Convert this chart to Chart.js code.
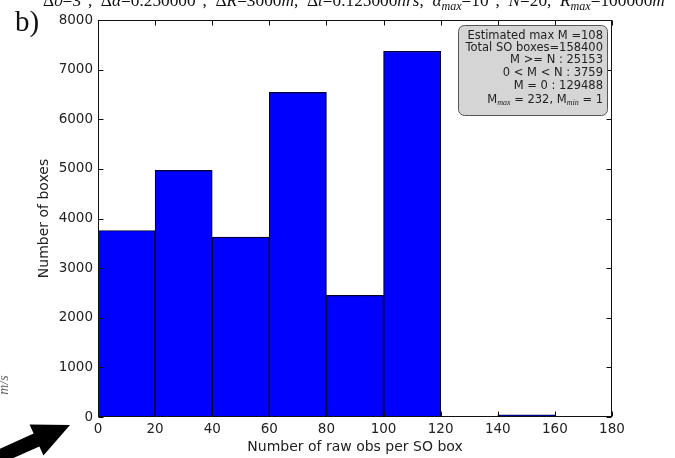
<!DOCTYPE html>
<html>
<head>
<meta charset="utf-8">
<script src="https://cdn.jsdelivr.net/npm/chart.js@4.4.1/dist/chart.umd.min.js"></script>
<style>
  body { margin: 0; background: #fff; }
  canvas { display: block; }
</style>
</head>
<body>
<canvas id="histo" width="675" height="458"></canvas>
<script>
// histogram bins (width 20 obs) and number of SO boxes in each
const binStarts = [0, 20, 40, 60, 80, 100, 120, 140, 160];
const binWidth = 20;
const boxCounts = [3759, 4970, 3625, 6540, 2450, 7370, 0, 45, 0];
const xTicks = [0, 20, 40, 60, 80, 100, 120, 140, 160, 180];
const yTicks = [0, 1000, 2000, 3000, 4000, 5000, 6000, 7000, 8000];

// summary box text
const statsLines = [
  'Estimated max M =108',
  'Total SO boxes=158400',
  'M >= N : 25153',
  '0 < M < N : 3759',
  'M = 0 : 129488'
];
const statsLast = [
  { t: 'M' }, { t: 'max', sub: true, serif: true, it: true }, { t: ' = 232, M' },
  { t: 'min', sub: true, serif: true, it: true }, { t: ' = 1' }
];

// run parameters heading
const headRuns = [
  { t: 'Δ' }, { t: 'ϑ', it: true }, { t: '=3°,  Δ' }, { t: 'α', it: true },
  { t: '=0.250000°,  Δ' }, { t: 'R', it: true }, { t: '=3000' }, { t: 'm', it: true },
  { t: ',  Δ' }, { t: 't', it: true }, { t: '=0.125000' }, { t: 'hrs', it: true },
  { t: ',  ' }, { t: 'α', it: true }, { t: 'max', it: true, sub: true }, { t: '=10°,  ' },
  { t: 'N', it: true }, { t: '=20,  ' }, { t: 'R', it: true }, { t: 'max', it: true, sub: true },
  { t: '=100000' }, { t: 'm', it: true }
];

const sans = '"DejaVu Sans", sans-serif';
const serif = '"Liberation Serif", "DejaVu Serif", serif';

function runFont(r, size, family) {
  const s = r.sub ? size * 0.7 : size;
  return (r.it ? 'italic ' : '') + s.toFixed(2) + 'px ' + (r.serif ? serif : family);
}

function runsWidth(ctx, runs, size, family) {
  let w = 0;
  runs.forEach(r => { ctx.font = runFont(r, size, family); w += ctx.measureText(r.t).width; });
  return w;
}

function drawRuns(ctx, runs, x, y, size, family) {
  runs.forEach(r => {
    ctx.font = runFont(r, size, family);
    ctx.fillText(r.t, x, r.sub ? y + size * 0.22 : y);
    x += ctx.measureText(r.t).width;
  });
}

const decorations = {
  id: 'decorations',
  afterDatasetsDraw(chart) {
    const { ctx, chartArea: a, scales: { x, y } } = chart;
    const L = Math.round(a.left) + 0.5, R = Math.round(a.right) - 0.5;
    const T = Math.round(a.top) + 0.5, B = Math.round(a.bottom) - 0.5;
    ctx.save();
    ctx.strokeStyle = '#111';
    ctx.lineWidth = 1;
    ctx.strokeRect(L, T, R - L, B - T);

    // inward tick marks on all four sides
    ctx.beginPath();
    xTicks.forEach(v => {
      const px = Math.round(x.getPixelForValue(v)) + 0.5;
      ctx.moveTo(px, B); ctx.lineTo(px, B - 5);
      ctx.moveTo(px, T); ctx.lineTo(px, T + 5);
    });
    yTicks.forEach(v => {
      const py = Math.round(y.getPixelForValue(v)) + 0.5;
      ctx.moveTo(L, py); ctx.lineTo(L + 5, py);
      ctx.moveTo(R, py); ctx.lineTo(R - 5, py);
    });
    ctx.stroke();

    // summary box in the upper right
    ctx.beginPath();
    ctx.roundRect(458.5, 25.5, 149, 90, 6);
    ctx.fillStyle = '#d5d5d5';
    ctx.fill();
    ctx.strokeStyle = '#555';
    ctx.stroke();
    ctx.fillStyle = '#222';
    ctx.textAlign = 'right';
    ctx.textBaseline = 'middle';
    ctx.font = '11.5px ' + sans;
    const rowY = [36, 48, 60, 73, 86];
    statsLines.forEach((s, i) => ctx.fillText(s, 603, rowY[i]));
    ctx.textAlign = 'left';
    const w = runsWidth(ctx, statsLast, 11.5, sans);
    drawRuns(ctx, statsLast, 603 - w, 100, 11.5, sans);

    // heading, clipped by the top edge
    ctx.textBaseline = 'alphabetic';
    ctx.fillStyle = '#111';
    let size = 17;
    size *= 622 / runsWidth(ctx, headRuns, size, serif);
    drawRuns(ctx, headRuns, 43, 6, size, serif);

    // panel letter
    ctx.font = '29px ' + serif;
    ctx.fillText('b)', 15, 31);

    // units from the neighbouring panel, cut at the left edge
    ctx.save();
    ctx.translate(8, 385);
    ctx.rotate(-Math.PI / 2);
    ctx.textAlign = 'center';
    ctx.fillStyle = '#666';
    ctx.font = 'italic 14px ' + serif;
    ctx.fillText('m/s', 0, 0);
    ctx.restore();

    // pointer arrow in the lower left corner
    const tip = [70, 425], base = [36.5, 440];
    const dx = tip[0] - base[0], dy = tip[1] - base[1];
    const len = Math.hypot(dx, dy);
    const ux = dx / len, uy = dy / len, nx = -uy, ny = ux;
    const tail = [base[0] - ux * 60, base[1] - uy * 60];
    const sw = 7, hw = 17;
    ctx.beginPath();
    ctx.moveTo(tip[0], tip[1]);
    ctx.lineTo(base[0] + nx * hw, base[1] + ny * hw);
    ctx.lineTo(base[0] + nx * sw, base[1] + ny * sw);
    ctx.lineTo(tail[0] + nx * sw, tail[1] + ny * sw);
    ctx.lineTo(tail[0] - nx * sw, tail[1] - ny * sw);
    ctx.lineTo(base[0] - nx * sw, base[1] - ny * sw);
    ctx.lineTo(base[0] - nx * hw, base[1] - ny * hw);
    ctx.closePath();
    ctx.fillStyle = '#000';
    ctx.fill();
    ctx.restore();
  }
};

const tickFont = { family: sans, size: 13.5 };
const titleFont = { family: sans, size: 14 };

new Chart(document.getElementById('histo'), {
  type: 'bar',
  data: {
    datasets: [{
      data: binStarts.map((b, i) => ({ x: b + binWidth / 2, y: boxCounts[i] })),
      backgroundColor: '#0000ff',
      borderColor: '#000033',
      borderWidth: 1.2,
      borderSkipped: 'bottom',
      barPercentage: 1,
      categoryPercentage: 1
    }]
  },
  options: {
    responsive: false,
    animation: false,
    layout: { padding: { top: 20, right: 63, bottom: 0, left: 30 } },
    plugins: { legend: { display: false }, tooltip: { enabled: false } },
    scales: {
      x: {
        type: 'linear',
        min: 0,
        max: 180,
        offset: false,
        afterBuildTicks: s => { s.ticks = xTicks.map(v => ({ value: v })); },
        afterFit: s => { s.height = 41; },
        grid: { display: false, drawTicks: false, offset: false },
        border: { display: false },
        ticks: { font: tickFont, color: '#222', padding: 4, maxRotation: 0, callback: v => String(v) },
        title: { display: true, text: 'Number of raw obs per SO box', font: titleFont, color: '#222', padding: { top: 0, bottom: 2 } }
      },
      y: {
        min: 0,
        max: 8000,
        afterBuildTicks: s => { s.ticks = yTicks.map(v => ({ value: v })); },
        afterFit: s => { s.width = 68; },
        grid: { display: false, drawTicks: false },
        border: { display: false },
        ticks: { font: tickFont, color: '#222', padding: 5, callback: v => String(v) },
        title: { display: true, text: 'Number of boxes', font: titleFont, color: '#222', padding: { top: 6, bottom: 0 } }
      }
    }
  },
  plugins: [decorations]
});
</script>
</body>
</html>
